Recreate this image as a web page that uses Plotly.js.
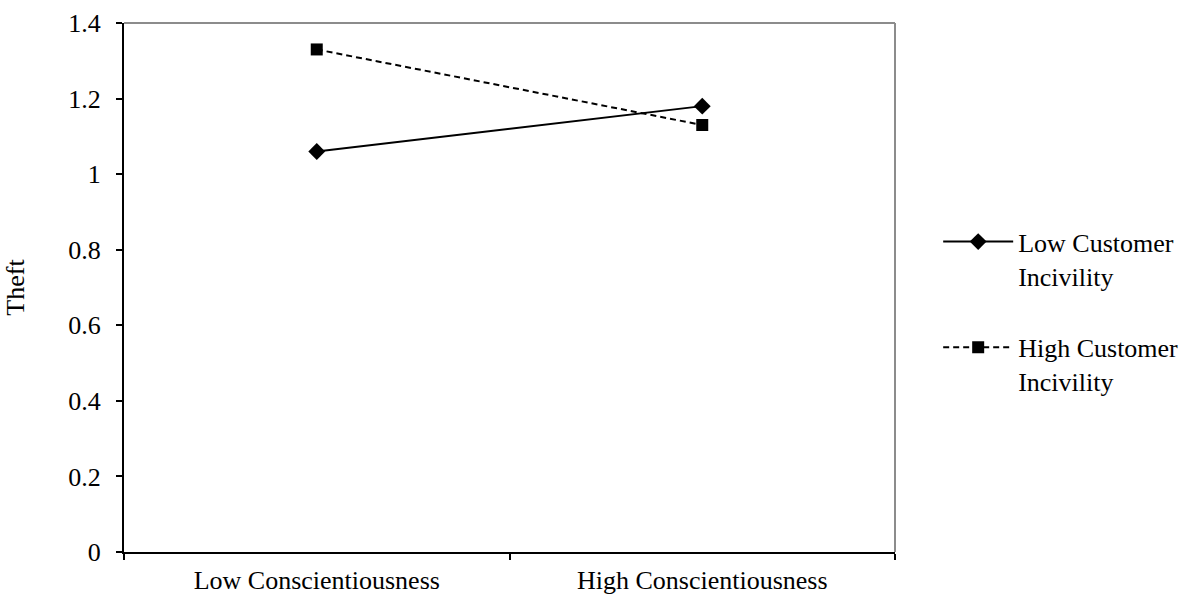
<!DOCTYPE html>
<html>
<head>
<meta charset="utf-8">
<script src="https://cdn.plot.ly/plotly-3.0.1.min.js"></script>
<style>html,body{margin:0;padding:0;background:#fff;}#chart{width:1187px;height:596px;}</style>
</head>
<body>
<div id="chart"></div>
<script>
const categories = ["Low Conscientiousness", "High Conscientiousness"];
const lowIncivility = [1.06, 1.18];
const highIncivility = [1.33, 1.13];
const seriesNames = ["Low Customer<br>Incivility", "High Customer<br>Incivility"];
const yTicks = [0, 0.2, 0.4, 0.6, 0.8, 1, 1.2, 1.4];
const yTickText = ["0", "0.2", "0.4", "0.6", "0.8", "1", "1.2", "1.4"];

const font = {family: "Liberation Serif, Times New Roman, serif", size: 26, color: "#000"};

const traces = [
  {
    x: categories, y: lowIncivility, name: seriesNames[0], type: "scatter", mode: "lines+markers",
    line: {color: "#000", width: 2}, marker: {symbol: "diamond", size: 13, color: "#000"},
    legendgroup: "a"
  },
  {
    x: categories, y: highIncivility, name: seriesNames[1], type: "scatter", mode: "lines+markers",
    line: {color: "#000", width: 2, dash: "6px,4px"}, marker: {symbol: "square", size: 12, color: "#000"},
    legendgroup: "b"
  }
];

const layout = {
  width: 1187, height: 596,
  margin: {l: 124, r: 292, t: 23, b: 44, autoexpand: false},
  paper_bgcolor: "#fff", plot_bgcolor: "#fff",
  font: font,
  showlegend: true,
  legend: {
    x: 1.056, xanchor: "left", y: 0.631, yanchor: "top", valign: "top",
    font: font, itemwidth: 70, tracegroupgap: 35, traceorder: "grouped",
    bgcolor: "rgba(0,0,0,0)"
  },
  xaxis: {
    type: "category", range: [-0.5, 1.5], tickson: "boundaries",
    showline: true, linecolor: "#000", linewidth: 2,
    ticks: "outside", ticklen: 6, tickwidth: 2, tickcolor: "#000",
    showgrid: false, zeroline: false, tickfont: font, ticklabelstandoff: 4, fixedrange: true
  },
  yaxis: {
    range: [0, 1.4], tickvals: yTicks, ticktext: yTickText,
    showline: true, linecolor: "#000", linewidth: 2,
    ticks: "outside", ticklen: 6, tickwidth: 2, tickcolor: "#000",
    showgrid: false, zeroline: false, tickfont: font, ticklabelstandoff: 10,
    title: {text: "Theft", font: font, standoff: 36}, fixedrange: true
  },
  shapes: [
    {type: "line", xref: "paper", yref: "paper", x0: 0, x1: 1, y0: 1, y1: 1, line: {color: "#8c8c8c", width: 2}},
    {type: "line", xref: "paper", yref: "paper", x0: 1, x1: 1, y0: 0, y1: 1, line: {color: "#8c8c8c", width: 2}}
  ]
};

Plotly.newPlot("chart", traces, layout, {displayModeBar: false, staticPlot: true});
</script>
</body>
</html>
